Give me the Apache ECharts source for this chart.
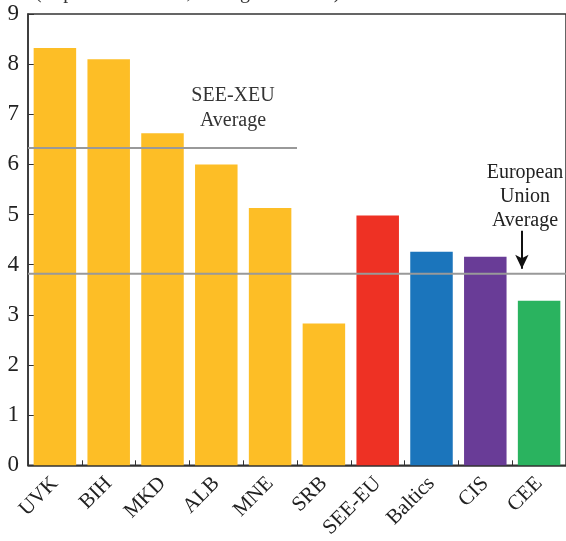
<!DOCTYPE html>
<html><head><meta charset="utf-8">
<script src="https://cdn.jsdelivr.net/npm/echarts@6/dist/echarts.min.js"></script>
<style>html,body{margin:0;padding:0;background:#fff}#c{width:566px;height:541px}</style>
</head><body><div id="c"></div>
<script>
var categories = ['UVK','BIH','MKD','ALB','MNE','SRB','SEE-EU','Baltics','CIS','CEE'];
var values = [8.32, 8.1, 6.62, 6.0, 5.13, 2.83, 4.98, 4.26, 4.16, 3.28];
var barColors = ['#FDBE26','#FDBE26','#FDBE26','#FDBE26','#FDBE26','#FDBE26','#EE3124','#1B75BC','#693C97','#2AB35F'];
var yTicks = [0,1,2,3,4,5,6,7,8,9];
var seeXeuAverage = 6.33;
var seeXeuSpan = [0, 5];
var euAverage = 3.82;
var euSpan = [0, 10];
var subtitle = '(In percent of GDP, average 2010\u201314)';

var F = '"Liberation Serif", "DejaVu Serif", serif';
var chart = echarts.init(document.getElementById('c'), null, {renderer:'canvas'});
chart.setOption({
  animation:false,
  grid:{left:28, right:-3, top:14, bottom:74, show:true, borderColor:'#333', borderWidth:1.5},
  xAxis:[{
    type:'category', data:categories,
    axisLine:{lineStyle:{color:'#333', width:1.5}},
    axisTick:{show:true, inside:true, length:5, lineStyle:{color:'#333'}},
    axisLabel:{rotate:45, fontFamily:F, fontSize:21, color:'#222', margin:15}
  },{
    type:'value', min:0, max:10, show:false
  }],
  yAxis:{
    type:'value', min:0, max:9, interval:1,
    axisLine:{show:true, lineStyle:{color:'#333', width:1.5}},
    axisTick:{show:true, inside:true, length:6, lineStyle:{color:'#333'}},
    splitLine:{show:false},
    axisLabel:{fontFamily:F, fontSize:23, color:'#222', margin:9,
      formatter:function(v){return yTicks.indexOf(v)>=0?String(v):'';}}
  },
  series:[{
    type:'bar', xAxisIndex:0, barWidth:'79%',
    data:values.map(function(v,i){return {value:v, itemStyle:{color:barColors[i]}};}),
    z:2
  },{
    type:'line', xAxisIndex:1, symbol:'none', z:3,
    lineStyle:{color:'#999', width:2},
    data:[[seeXeuSpan[0],seeXeuAverage],[seeXeuSpan[1],seeXeuAverage]]
  },{
    type:'line', xAxisIndex:1, symbol:'none', z:3,
    lineStyle:{color:'#999', width:2},
    data:[[euSpan[0],euAverage],[euSpan[1],euAverage]],
    markLine:{
      silent:true, symbol:['none','arrow'], symbolSize:[10,14],
      label:{show:false},
      lineStyle:{color:'#111', width:2, type:'solid'},
      data:[[{coord:[9.18,4.68]},{coord:[9.18,3.92]}]]
    }
  }],
  graphic:[
    {type:'text', style:{x:35, y:3, text:subtitle, font:'20px '+F, fill:'#333', verticalAlign:'bottom'}},
    {type:'text', style:{x:233, y:108, text:'SEE-XEU\nAverage', font:'20px '+F, fill:'#333', align:'center', verticalAlign:'middle', lineHeight:25}},
    {type:'text', style:{x:525, y:197, text:'European\nUnion\nAverage', font:'20px '+F, fill:'#222', align:'center', verticalAlign:'middle', lineHeight:24}}
  ]
});
</script></body></html>
